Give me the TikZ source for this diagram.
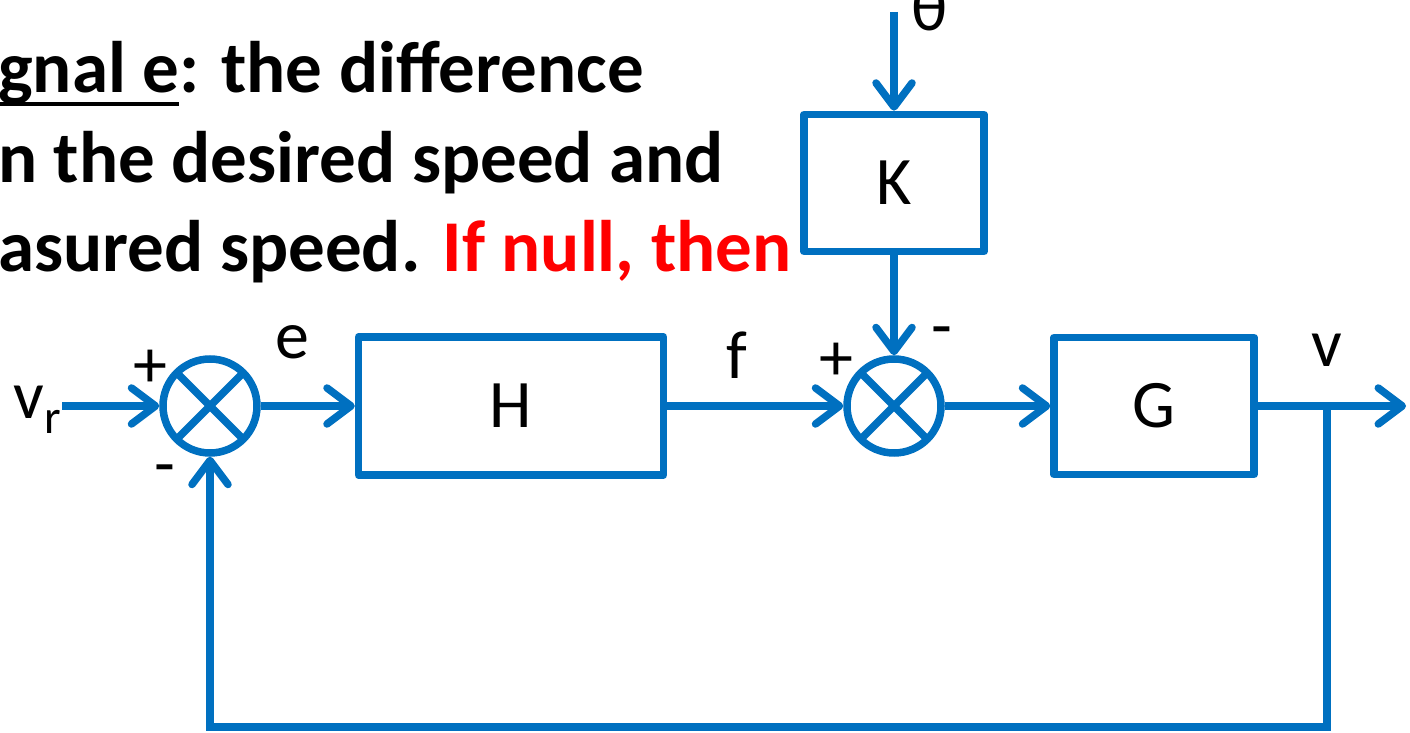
\documentclass[tikz,border=0pt]{standalone}
\usepackage{fontspec}
\setmainfont{Carlito}
\usetikzlibrary{arrows.meta}
\definecolor{signal}{HTML}{0070C0}
\definecolor{alert}{HTML}{FF0000}
% thick underline as in the slide
\newcommand\heavyline[1]{\setbox0\hbox{#1}\rlap{\rule[-13.5pt]{\wd0}{4.5pt}}\box0}

\begin{document}
\begin{tikzpicture}[x=1pt,y=1pt,text=black,
  flow/.style={-{Straight Barb[length=24pt,width=36pt,round]},draw=signal,line width=7.5pt},
  block/.style={draw=signal,line width=7.5pt,line join=round,inner sep=0pt,font=\fontsize{68}{68}\selectfont},
  sumjunction/.style={circle,draw=signal,line width=7.5pt,minimum size=94pt,inner sep=0pt,
    path picture={\draw[signal,line width=7.5pt]
      (path picture bounding box.north west)--(path picture bounding box.south east)
      (path picture bounding box.north east)--(path picture bounding box.south west);}},
  label/.style={font=\fontsize{68}{68}\selectfont,inner sep=0pt},
  heading/.style={font=\bfseries\fontsize{73}{89}\selectfont,inner sep=0pt,anchor=base west}]
\useasboundingbox (0,0) rectangle (1410,733);
\fill[white] (0,0) rectangle (1410,733);

% EXPLANATION TEXT, CUT BY THE LEFT EDGE
\node[heading] (lineone) at (-2,640) {\heavyline{gnal e}: the difference};
\node[heading] (linetwo) at (-2,550) {n the desired speed and};
\node[heading] (linethree) at (-2,461) {asured speed. \textcolor{alert}{If null, then}};

% MAIN LOOP
\node[sumjunction] (sumone) at (210,327) {};
\node[block,minimum width=305pt,minimum height=138pt] (hbox) at (511,327) {H};
\node[sumjunction] (sumtwo) at (894,327) {};
\node[block,minimum width=180pt,minimum height=137pt] (kbox) at (894,550) {K};
\node[block,minimum width=200pt,minimum height=137pt] (gbox) at (1154,327) {G};
\node[label,anchor=east] (vr) at (62,323) {v\textsubscript{r}};
\coordinate (thetain) at (894,721);
\node[label,anchor=base] (theta) at (930,702) {θ};
\coordinate (vbranch) at (1327,327);
\coordinate (vout) at (1406,327);
\coordinate (fbcorner) at (210,6);

\draw[flow] (vr.east |- sumone) -- (sumone.west);
\draw[flow] (sumone) -- (hbox.west);
\draw[flow] (hbox) -- (sumtwo.west);
\draw[flow] (thetain) -- (kbox.north);
\draw[flow] (kbox) -- (sumtwo.north);
\draw[flow] (sumtwo) -- (gbox.west);
\draw[flow] (gbox) -- (vout);
% feedback of the measured speed
\draw[flow] (vbranch) |- (fbcorner) -- (sumone.south);

% SIGNAL NAMES AND SIGNS
\node[label] (elabel) at (292,391) {e};
\node[label] (flabel) at (737,378) {f};
\node[label] (vlabel) at (1327,383) {v};
\node[label] (plusone) at (150,364) {+};
\node[label] (minusone) at (165,257) {-};
\node[label] (plustwo) at (836,371) {+};
\node[label] (minustwo) at (942,395) {-};
\end{tikzpicture}
\end{document}
